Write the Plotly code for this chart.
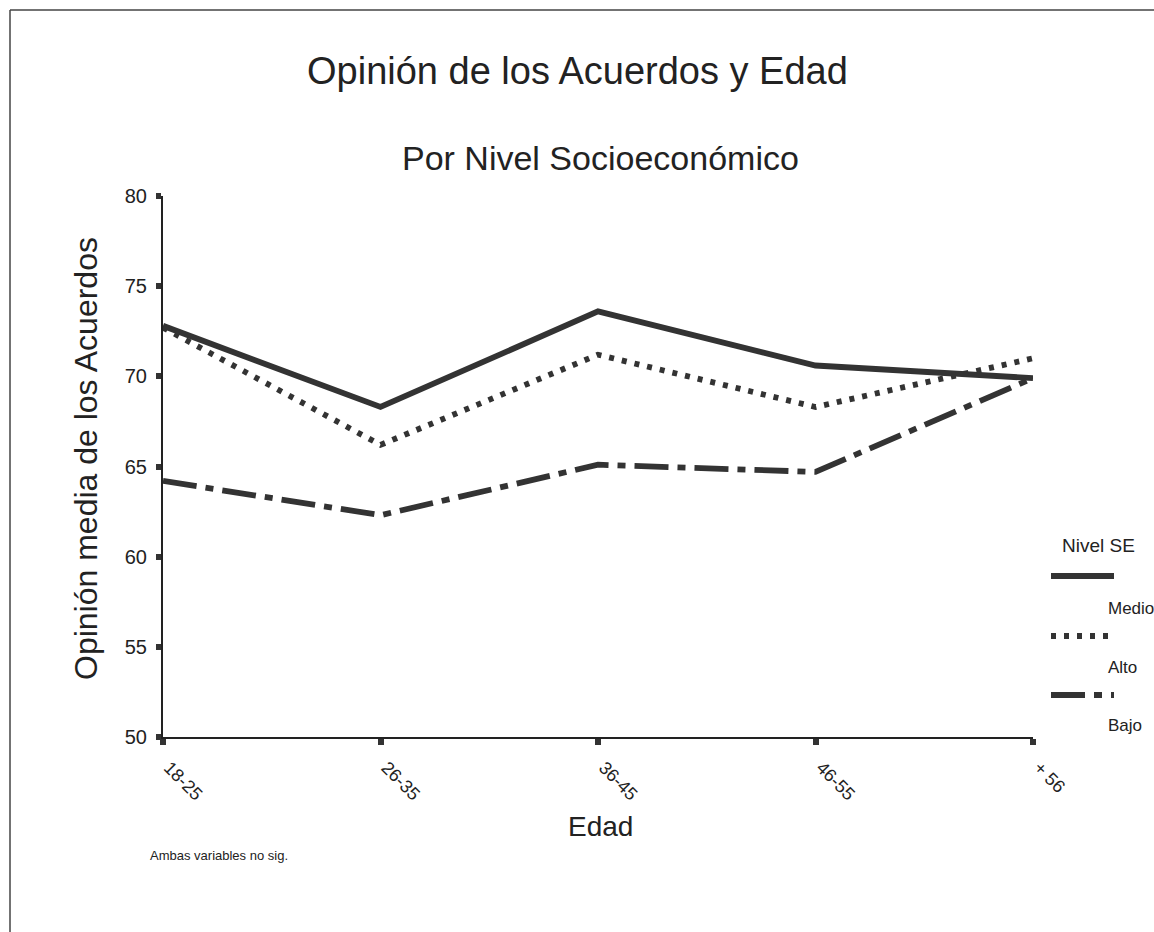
import plotly.graph_objects as go

# Age groups and mean opinion per socioeconomic level
edad = ["18-25", "26-35", "36-45", "46-55", "+ 56"]
medio = [72.8, 68.3, 73.6, 70.6, 69.9]
alto = [72.7, 66.2, 71.2, 68.3, 71.0]
bajo = [64.2, 62.3, 65.1, 64.7, 69.9]
niveles = ["Medio", "Alto", "Bajo"]
y_ticks = [50, 55, 60, 65, 70, 75, 80]

W, H = 1154, 932
L, R, T, B = 163, 121, 196, 195          # plot area: x 163..1033, y 196..737
PW, PH = W - L - R, H - T - B

FONT = "Liberation Sans, Arial, Helvetica, sans-serif"
INK = "#222222"
LINE = "#333333"

DASHES = {
    "Medio": "solid",
    "Alto": "5px,8px",
    "Bajo": "34px,9px,8px,9px",
}
VALUES = {"Medio": medio, "Alto": alto, "Bajo": bajo}


def px_x(x):
    return (x - L) / PW


def px_y(y):
    return (H - B - y) / PH


fig = go.Figure()
for nivel in niveles:
    fig.add_trace(go.Scatter(
        x=edad, y=VALUES[nivel], mode="lines", name=nivel,
        line=dict(color=LINE, width=5.8, dash=DASHES[nivel]),
        hoverinfo="x+y+name",
    ))

annotations = [
    dict(text="Opinión de los Acuerdos y Edad", x=px_x(577), y=px_y(71),
         font=dict(size=38)),
    dict(text="Por Nivel Socioeconómico", x=px_x(600), y=px_y(158),
         font=dict(size=34)),
    dict(text="Opinión media de los Acuerdos", x=px_x(86), y=px_y(459),
         textangle=-90, font=dict(size=32)),
    dict(text="Edad", x=px_x(600), y=px_y(826), font=dict(size=28)),
    dict(text="Ambas variables no sig.", x=px_x(148), y=px_y(855),
         xanchor="left", font=dict(size=13)),
    dict(text="Nivel SE", x=px_x(1098), y=px_y(545), font=dict(size=19)),
]

shapes = [
    # page frame
    dict(type="line", xref="paper", yref="paper",
         x0=px_x(10), x1=px_x(1160), y0=px_y(10), y1=px_y(10),
         line=dict(color="#444444", width=1.5)),
    dict(type="line", xref="paper", yref="paper",
         x0=px_x(10), x1=px_x(10), y0=px_y(10), y1=px_y(940),
         line=dict(color="#444444", width=1.5)),
]

# custom legend: sample line with the label below it
legend_rows = [(576, 608), (636, 667), (695, 725)]
for nivel, (ly, ty) in zip(niveles, legend_rows):
    shapes.append(dict(
        type="line", xref="paper", yref="paper",
        x0=px_x(1051), x1=px_x(1114), y0=px_y(ly), y1=px_y(ly),
        line=dict(color=LINE, width=5.8, dash=DASHES[nivel]),
    ))
    annotations.append(dict(
        text=nivel, x=px_x(1106), y=px_y(ty), xanchor="left",
        font=dict(size=17),
    ))

for a in annotations:
    a.setdefault("xref", "paper")
    a.setdefault("yref", "paper")
    a.setdefault("showarrow", False)
    a.setdefault("xanchor", "center")
    a.setdefault("yanchor", "middle")
    a["font"] = dict(family=FONT, color=INK, **a["font"])

fig.update_layout(
    width=W, height=H,
    margin=dict(l=L, r=R, t=T, b=B, autoexpand=False),
    paper_bgcolor="white", plot_bgcolor="white",
    showlegend=False,
    font=dict(family=FONT, color=INK),
    annotations=annotations,
    shapes=shapes,
    xaxis=dict(
        type="category", range=[0, 4],
        showline=True, linewidth=2, linecolor=INK,
        ticks="outside", ticklen=6, tickwidth=6, tickcolor=LINE,
        tickangle=45, tickfont=dict(size=18),
        ticklabelstandoff=5, ticklabelshift=6,
        showgrid=False, zeroline=False,
    ),
    yaxis=dict(
        range=[50, 80], tickvals=y_ticks,
        showline=True, linewidth=2, linecolor=INK,
        ticks="outside", ticklen=5, tickwidth=6, tickcolor=LINE,
        tickfont=dict(size=20), ticklabelstandoff=5,
        showgrid=False, zeroline=False,
    ),
)

fig.write_html("out.html")
